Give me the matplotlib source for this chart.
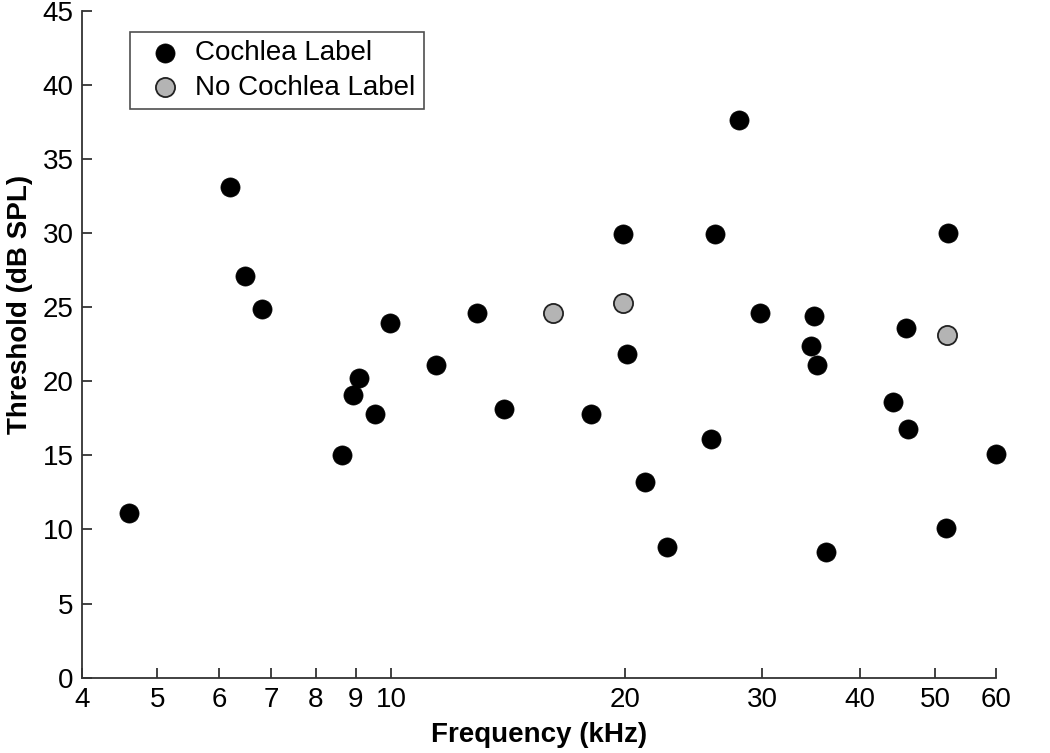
import matplotlib
matplotlib.use("Agg")
import matplotlib.pyplot as plt

plt.rcParams['font.family'] = ['Liberation Sans', 'DejaVu Sans']

# Cochlea Label (black)
freq_label = [4.60, 6.20, 6.48, 6.81, 8.65, 8.92, 9.08, 9.52, 9.97, 11.4, 12.9, 13.96,
              18.07, 19.87, 20.1, 21.2, 22.6, 25.8, 26.1, 28.0, 29.8, 34.6, 35.0, 35.3,
              36.2, 44.2, 45.9, 46.2, 51.7, 52.0, 60.0]
thr_label = [11.1, 33.1, 27.1, 24.9, 15.0, 19.1, 20.2, 17.8, 23.9, 21.1, 24.6, 18.1,
             17.8, 29.9, 21.8, 13.2, 8.8, 16.1, 29.9, 37.6, 24.6, 22.4, 24.4, 21.1,
             8.5, 18.6, 23.6, 16.8, 10.1, 30.0, 15.1]

# No Cochlea Label (gray)
freq_nolabel = [16.15, 19.87, 51.8]
thr_nolabel = [24.6, 25.3, 23.1]

xticks = [4, 5, 6, 7, 8, 9, 10, 20, 30, 40, 50, 60]
xticklabels = ['4', '5', '6', '7', '8', '9', '10', '20', '30', '40', '50', '60']
yticks = [0, 5, 10, 15, 20, 25, 30, 35, 40, 45]

fig = plt.figure(figsize=(10.5, 7.53), dpi=100)
ax = fig.add_axes([0.078, 0.100, 0.871, 0.886])

ax.scatter(freq_label, thr_label, s=190, c='black', edgecolors='black',
           linewidths=0.5, label='Cochlea Label', zorder=3, clip_on=False)
ax.scatter(freq_nolabel, thr_nolabel, s=190, c='#b4b4b4', edgecolors='#222222',
           linewidths=1.3, label='No Cochlea Label', zorder=3, clip_on=False)

ax.set_xscale('log')
ax.set_xlim(4, 60)
ax.set_ylim(0, 45)
ax.set_xticks(xticks)
ax.set_xticklabels(xticklabels)
ax.xaxis.set_minor_locator(matplotlib.ticker.NullLocator())
ax.set_yticks(yticks)
ax.set_yticklabels([str(v) for v in yticks])

for s in ['top', 'right']:
    ax.spines[s].set_visible(False)
for s in ['left', 'bottom']:
    ax.spines[s].set_linewidth(1.3)
    ax.spines[s].set_color('#333333')

ax.tick_params(axis='both', direction='in', length=7, width=1.3, color='#333333',
               labelsize=20, labelcolor='black')
ax.tick_params(axis='x', pad=7)
ax.tick_params(axis='y', pad=6)

ax.set_xlabel('Frequency (kHz)', fontsize=20, fontweight='bold', labelpad=6)
ax.set_ylabel('Threshold (dB SPL)', fontsize=20, fontweight='bold')
ax.yaxis.set_label_coords(-0.054, 0.56)

leg = ax.legend(loc='upper left', bbox_to_anchor=(0.0525, 0.968), fontsize=20,
                frameon=True, fancybox=False, edgecolor='#222222', handletextpad=0.15,
                borderpad=0.3, labelspacing=0.3, handlelength=1.9, borderaxespad=0)
leg.get_frame().set_linewidth(1.2)

fig.savefig('out.png', dpi=100)
